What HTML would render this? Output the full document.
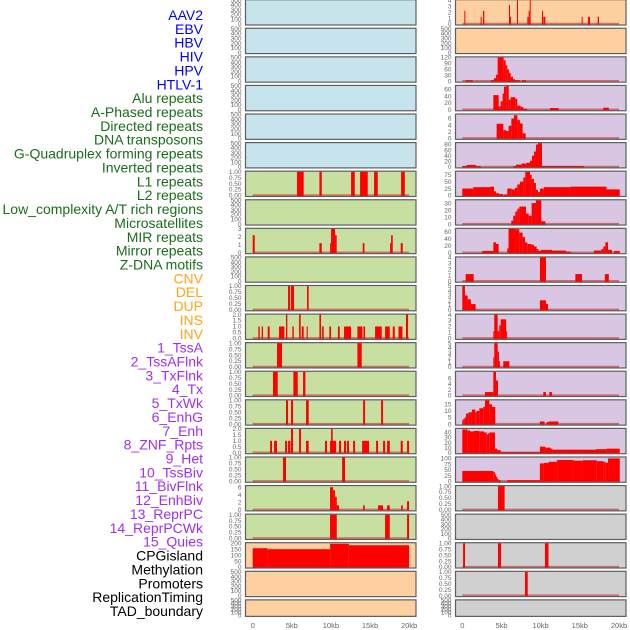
<!DOCTYPE html>
<html><head><meta charset="utf-8">
<style>
html,body{margin:0;padding:0;background:#fff;width:630px;height:630px;overflow:hidden}
svg{display:block}
</style></head>
<body>
<svg id="chart" width="630" height="630" viewBox="0 0 630 630" xmlns="http://www.w3.org/2000/svg"></svg>
<script>
// ---- labels ----
const trackLabels = ["AAV2","EBV","HBV","HIV","HPV","HTLV-1","Alu repeats","A-Phased repeats","Directed repeats","DNA transposons","G-Quadruplex forming repeats","Inverted repeats","L1 repeats","L2 repeats","Low_complexity A/T rich regions","Microsatellites","MIR repeats","Mirror repeats","Z-DNA motifs","CNV","DEL","DUP","INS","INV","1_TssA","2_TssAFlnk","3_TxFlnk","4_Tx","5_TxWk","6_EnhG","7_Enh","8_ZNF_Rpts","9_Het","10_TssBiv","11_BivFlnk","12_EnhBiv","13_ReprPC","14_ReprPCWk","15_Quies","CPGisland","Methylation","Promoters","ReplicationTiming","TAD_boundary"];
const labelGroups = [6,13,5,15,5];
const xTickLabels = ["0","5kb","10kb","15kb","20kb"];
const xTickKb = [0,5,10,15,20];

// ---- left column data: [startKb, endKb, value] ----
const L6 = [[5.67,6.52,1],[8.53,8.83,1],[12.58,13.05,1],[13.73,14.71,1],[15.52,15.99,1],[18.98,19.45,1]];
const L8 = [[0,0.26,2.2],[8.53,8.83,1.2],[9.9,10.02,1.2],[10.02,10.53,3],[10.53,10.74,2.2],[14.07,14.29,1.2],[17.57,17.78,1.2],[17.7,17.91,2.2],[18.93,19.19,1.2]];
const L10 = [[4.52,4.78,1],[4.9,5.29,1],[6.95,7.16,1]];
const L11 = [[0.72,0.9,1],[1.15,1.32,1],[1.92,2.17,1],[3.37,4.05,1],[4.26,4.43,2],[5.07,5.25,1],[5.93,6.14,2],[6.27,6.52,1],[6.9,7.04,1],[8.53,8.74,2],[8.87,9.08,1],[9.8,10.02,1],[10.9,11.13,1],[11.68,12.58,1],[13.39,14.03,1],[14.16,14.37,1],[15.65,16.5,1],[16.93,17.53,1],[17.91,18.17,1],[18.64,19.15,1],[19.6,19.87,2]];
const L12 = [[3.11,3.75,1],[13.39,13.94,1]];
const L13 = [[2.6,3.2,1],[5.2,5.76,1],[6.44,6.74,1]];
const L14 = [[4.26,4.52,1],[4.9,5.16,1],[6.82,7.16,1],[14.12,14.37,1],[16.42,16.67,1]];
const L15 = [[2.22,2.47,1],[2.73,3.11,1],[4.14,4.39,1],[4.52,4.82,1],[4.9,5.16,2],[5.93,6.18,2],[6.82,7.16,1],[9.25,9.51,1],[9.89,10.1,1],[10.1,10.66,1],[10.02,10.23,2],[11.04,11.3,1],[11.68,11.94,1],[12.07,12.32,1],[12.84,13.09,1],[13.99,14.88,1],[15.78,16.03,1],[16.67,16.93,1],[17.19,17.53,1],[18.93,19.19,1],[19.74,20,1]];
const L16 = [[3.88,4.26,1],[11.43,11.81,1]];
const L17 = [[9.89,10.28,6],[10.28,10.53,5.2],[10.53,10.75,3.5],[10.75,11.04,1.2],[14.12,14.33,1.2],[16.03,16.67,1.2],[17.19,17.53,1.2],[18.98,19.19,1.2],[19.74,20,2.3]];
const L18 = [[9.89,10.75,1],[16.93,17.53,1],[19.74,20,1]];
const L19 = [[0,1.9,158],[1.9,9.9,150],[9.9,12.3,195],[12.3,20,183]];

// ---- right column data ----
const R0 = [[0.26,0.38,2.2],[2.34,2.47,1.2],[2.64,2.81,2.2],[5.96,6.09,3.2],[6.09,6.17,1.2],[6.98,7.1,4],[8.3,8.47,1.2],[8.47,8.6,2.2],[8.6,8.72,4],[10.17,10.3,2.2],[10.34,10.6,1.2],[15.23,15.36,1.2],[16.04,16.3,1.2],[17.28,17.45,1.2]];
const R2 = [[0.43,1.32,5],[3.66,4.04,5],[4.04,4.3,15],[4.3,4.51,32],[4.51,5.28,120],[5.28,5.53,105],[5.53,5.74,80],[5.74,5.96,60],[5.96,6.17,42],[6.17,6.47,22],[6.47,6.72,10],[6.72,7.36,5],[7.62,8.13,5]];
const R3 = [[3.96,4.64,43],[4.64,4.9,10],[4.9,5.15,25],[5.15,5.32,48],[5.32,5.6,68],[5.6,5.92,70],[5.92,6.17,30],[6.17,6.77,37],[6.77,7.02,32],[7.02,7.45,12],[7.45,7.79,8],[7.79,8.22,3],[11.19,12.3,5],[17.99,18.7,6]];
const R4 = [[4.38,5.23,4.4],[5.23,5.57,2.5],[5.57,5.91,2.2],[5.91,6.26,3.8],[6.26,6.6,6],[6.6,7.02,7],[7.02,7.36,5.5],[7.36,7.7,4.5],[7.7,8.09,1.5]];
const R5 = [[0,0.55,3],[0.55,1.74,7],[1.74,2.34,3],[6.5,6.85,3],[6.85,7.57,8],[7.57,8.21,12],[8.21,8.64,15],[8.64,8.89,22],[8.89,9.15,40],[9.15,9.4,55],[9.4,9.66,80],[9.66,10.17,85],[10.17,15.53,3]];
const R6 = [[0,1.4,25],[1.4,3.6,30],[3.6,4.04,32],[4.04,4.3,15],[4.3,4.72,8],[4.72,5.2,5],[5.3,5.74,3],[5.74,6.3,25],[6.3,6.72,22],[6.72,7.02,28],[7.02,7.36,40],[7.36,7.79,50],[7.79,8.04,65],[8.04,8.64,86],[8.64,8.85,75],[8.85,9.15,60],[9.15,9.4,45],[9.4,9.66,20],[9.66,9.91,12],[9.91,10.4,25],[10.4,13.8,30],[13.8,18.4,32],[18.4,20.1,22]];
const R7 = [[6.26,6.5,5],[6.5,6.77,12],[6.77,7.02,18],[7.02,7.28,22],[7.28,8.13,25],[8.13,8.47,15],[8.47,8.85,12],[8.85,9.4,30],[9.4,10.08,34],[10.08,10.6,4]];
const R8 = [[2.55,3.96,5],[3.96,4.3,30],[4.3,4.64,25],[5.74,5.9,12],[5.9,6.85,69],[6.85,7.28,68],[7.28,7.7,58],[7.7,8.0,45],[8.0,8.3,30],[8.3,8.85,25],[8.85,9.15,23],[9.15,9.49,18],[9.49,9.74,10],[9.74,10.0,5],[10.0,11.45,8],[11.45,13.23,6],[13.23,13.83,3],[16.8,17.74,6],[17.74,18.0,10],[18.0,18.26,18],[18.26,18.6,30],[18.6,19.11,8],[19.36,20.1,5]];
const R9 = [[0.43,1.45,1.2],[9.91,10.68,4],[14.43,15.28,1.2],[18.2,18.7,1.2]];
const R10 = [[0,0.34,5],[0.34,0.68,3],[0.68,1.1,2.2],[1.1,1.7,1.2],[9.91,10.68,2],[10.68,10.94,1.2]];
const R11 = [[3.96,4.08,1.2],[4.08,4.51,4],[4.51,4.72,1.2],[4.72,4.9,2.2],[4.9,5.6,3.2],[5.6,5.68,1.2]];
const R12 = [[3.96,4.08,2],[4.08,4.51,5],[4.51,4.68,3.2],[4.68,4.8,1.2],[5.23,6.0,1.2]];
const R13 = [[2.9,3.96,1.2],[3.96,4.3,8.2],[4.3,4.55,5.2],[10.34,10.68,1.2],[11.1,11.45,1.2]];
const R14 = [[0,0.13,3],[0.13,0.3,4],[0.3,0.47,5],[0.47,0.81,8],[0.81,1.23,9],[1.23,1.66,11],[1.66,1.83,9],[1.83,2.17,10],[2.17,2.68,12],[2.68,2.9,13],[2.9,3.45,18],[3.45,3.79,15],[3.79,4.21,13],[9.9,10.5,2],[10.75,11.0,1.5],[11.0,12.25,2]];
const R15 = [[0,0.64,46],[0.64,0.98,44],[0.98,1.49,42],[1.49,2.17,43],[2.17,2.77,42],[2.77,3.11,40],[3.11,3.28,36],[3.28,3.45,38],[3.45,4.17,40],[4.17,4.47,8],[4.47,4.9,5],[4.9,9.9,1],[9.9,10.6,12],[10.6,11.27,10],[11.27,11.5,8],[11.5,17.06,6],[17.06,18.43,7],[18.43,20.1,8]];
const R16 = [[0,3.96,45],[3.96,4.17,40],[4.17,4.3,30],[4.3,4.47,20],[4.47,4.64,10],[4.64,4.9,5],[5.74,9.9,5],[9.9,10.4,78],[10.4,11.0,80],[11.0,12.1,85],[12.1,14.2,93],[14.2,15.4,90],[15.4,17.15,92],[17.15,18.0,88],[18.0,18.3,85],[18.3,18.6,80],[18.6,20.1,100]];
const R17 = [[4.55,5.4,1]];
const R19 = [[0.1,0.35,1],[4.55,4.94,1],[10.55,11.0,1]];
const R20 = [[8.0,8.35,1]];

// ---- tick sets ----
const tEmpty = [0,100,200,300,400,500];
const tBin = [0,0.25,0.5,0.75,1];
const tHalf = [0,0.5,1,1.5,2];

// panel specs: [data, yMax, ticks, decimals]
const leftPanels = [
 [null,500,tEmpty,0],[null,500,tEmpty,0],[null,500,tEmpty,0],[null,500,tEmpty,0],[null,500,tEmpty,0],[null,500,tEmpty,0],
 [L6,1,tBin,2],[null,500,tEmpty,0],[L8,3,[0,1,2,3],0],[null,500,tEmpty,0],[L10,1,tBin,2],[L11,2,tHalf,1],
 [L12,1,tBin,2],[L13,1,tBin,2],[L14,1,tBin,2],[L15,2,tHalf,1],[L16,1,tBin,2],[L17,6.3,[0,2,4,6],0],[L18,1,tBin,2],
 [L19,200,[0,50,100,150,200],0],[null,500,tEmpty,0],[null,500,tEmpty,0]
];
const rightPanels = [
 [R0,4,[0,1,2,3,4],0],[null,500,tEmpty,0],[R2,120,[0,30,60,90,120],0],[R3,70,[0,20,40,60],0],[R4,7.2,[0,2,4,6],0],
 [R5,85,[0,20,40,60,80],0],[R6,86,[0,25,50,75],0],[R7,34,[0,10,20,30],0],[R8,69,[0,20,40,60],0],[R9,4,[0,1,2,3,4],0],
 [R10,5,[0,1,2,3,4,5],0],[R11,4,[0,1,2,3,4],0],[R12,5,[0,1,2,3,4,5],0],[R13,8.2,[0,2,4,6],0],[R14,18,[0,5,10,15],0],
 [R15,47,[0,10,20,30,40],0],[R16,104,[0,25,50,75,100],0],[R17,1,tBin,2],[null,500,tEmpty,0],[R19,1,tBin,2],[R20,1,tBin,2],[null,500,tEmpty,0]
];

const leftBg = i => i<6 ? "#c7e3eb" : (i<19 ? "#c7e0a2" : "#ffd09f");
const rightBg = i => i<2 ? "#ffd09f" : (i<17 ? "#d8c6e2" : "#d0d0d0");
const groupColors = ["#0000ff","#1b6d1b","#ffa518","#a030f0","#000000"];

const svg = document.getElementById('chart');
const NS = "http://www.w3.org/2000/svg";
function mk(tag, attrs, parent){
  const e = document.createElementNS(NS, tag);
  for (const k in attrs) e.setAttribute(k, attrs[k]);
  (parent||svg).appendChild(e);
  return e;
}

// labels
let gi = 0, gc = 0;
trackLabels.forEach((lab, k) => {
  const t = mk('text', {x:203, y:(15 + k*13.86 + 5).toFixed(1), 'text-anchor':'end', 'font-family':'Liberation Sans, sans-serif', 'font-size':'14', fill:groupColors[gi]});
  
  
  t.textContent = lab;
  gc++; if (gc >= labelGroups[gi]) { gi++; gc = 0; }
});

function panelTop(i){ return i*28.58 - 0.3; }
function panelH(i){ return i===21 ? 16.5 : 25.3; }

function drawPanel(spec, i, px, pw, x0, pxPerKb, bg, side){
  const [data, ymax, ticks, dec] = spec;
  const top = panelTop(i), h = panelH(i), bottom = top + h;
  const g = mk('g', {});
  
  
  const r = mk('rect', {x:px, y:top, width:pw, height:h, fill:bg, stroke:'none'}, g);
  
  
  const xs = kb => x0 + kb*pxPerKb;
  const ys = v => (bottom - 1) - v/ymax*(h - 1.5);
  if (data) {
    const bl = mk('line', {x1:xs(0), x2:xs(20), y1:bottom-1.2, y2:bottom-1.2, stroke:'rgba(200,30,30,0.55)', 'stroke-width':2}, g);
    
    
    data.forEach(d => {
      const x1 = xs(d[0]), x2 = xs(d[1]);
      const y = ys(d[2]);
      const b = mk('rect', {x:x1.toFixed(2), y:y.toFixed(2), width:Math.max(1, x2-x1).toFixed(2), height:(bottom-1-y+0.5).toFixed(2), fill:'#ff0000'}, g);
      
      
    });
  }
  const fr = mk('rect', {x:px, y:top, width:pw, height:h, fill:'none', stroke:'#5e5e5e', 'stroke-width':1.2}, g);
  
  
  ticks.forEach(tv => {
    const tt = mk('text', {x:px-4, y:(ys(tv)+2.2).toFixed(1), 'text-anchor':'end', 'font-family':'Liberation Sans, sans-serif', 'font-size':'6.5', fill:'#666'}, g);
    
    
    tt.textContent = tv.toFixed(dec);
  });
}

leftPanels.forEach((s,i) => drawPanel(s, i, 245.5, 170.5, 252.7, 7.82, leftBg(i), 'left'));
rightPanels.forEach((s,i) => drawPanel(s, i, 455.5, 170.5, 462.3, 7.835, rightBg(i), 'right'));

// x-axis tick labels
[[252.7,7.82,'left'],[462.3,7.835,'right']].forEach(([x0,k,side]) => {
  xTickKb.forEach((kb, j) => {
    const t = mk('text', {x:(x0+kb*k).toFixed(1), y:628, 'text-anchor':'middle', 'font-family':'Liberation Sans, sans-serif', 'font-size':'7.5', fill:'#666'});
    
    
    t.textContent = xTickLabels[j];
  });
});
</script>
</body></html>
